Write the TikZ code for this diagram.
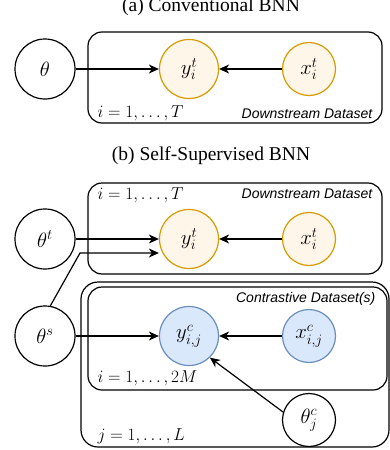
\documentclass[tikz,border=0pt]{standalone}
\usepackage{fontspec}
\setmainfont{Liberation Serif}
\setsansfont{Liberation Sans}
\usetikzlibrary{arrows.meta,calc}
\definecolor{orgS}{HTML}{D79B00}
\definecolor{orgF}{HTML}{FFF6EA}
\definecolor{bluS}{HTML}{6C8EBF}
\definecolor{bluF}{HTML}{DAE8FC}
\begin{document}
\begin{tikzpicture}[x=1pt,y=-1pt,line width=1.2pt,
  var/.style={circle,draw,minimum size=60pt,inner sep=0pt,font=\fontsize{21}{22}\selectfont},
  smallvar/.style={var,minimum size=53pt},
  obs/.style={draw=orgS,fill=orgF},
  con/.style={draw=bluS,fill=bluF},
  plate/.style={draw,rounded corners=14pt},
  arr/.style={-{Stealth[length=10pt,width=9pt,inset=3pt]}},
  lab/.style={font=\fontsize{16.5}{17}\selectfont,inner sep=0pt},
  dlab/.style={font=\sffamily\itshape\fontsize{14}{14}\selectfont,inner sep=0pt},
  ttl/.style={font=\fontsize{19.5}{20}\selectfont,inner sep=0pt}]
\useasboundingbox (0,0) rectangle (390,450);
% (a)
\node[ttl,anchor=base] (ta) at (211,11.5) {(a) Conventional BNN};
\draw[plate] (88,32) rectangle (382,123);
\node[var] (th) at (45,69) {$\theta$};
\node[var,obs,minimum size=59pt] (ya) at (189,69) {$y_i^t$};
\node[smallvar,obs] (xa) at (309,69) {$x_i^t$};
\node[lab,anchor=base west] (ia) at (97,117.5) {$i=1,\ldots,T$};
\node[dlab,anchor=base east] (da) at (373,118.5) {Downstream Dataset};
\draw[arr] (th) -- (ya);
\draw[arr] (xa) -- (ya);
% (b)
\node[ttl,anchor=base] (tb) at (211,160) {(b) Self-Supervised BNN};
\draw[plate] (88,183) rectangle (382,274);
\draw[plate,rounded corners=17pt] (81,282) rectangle (389,447);
\draw[plate] (88,287) rectangle (387,390);
\node[var] (tt) at (45,239) {$\theta^t$};
\node[var,obs,minimum size=59pt] (yb) at (189,239) {$y_i^t$};
\node[smallvar,obs] (xb) at (309,239) {$x_i^t$};
\node[lab,anchor=base west] (ib) at (97,199) {$i=1,\ldots,T$};
\node[dlab,anchor=base east] (db) at (373,198.5) {Downstream Dataset};
\node[var] (ts) at (45,336) {$\theta^s$};
\node[var,con,minimum size=59pt] (yc) at (189,336) {$y_{i,j}^c$};
\node[smallvar,con] (xc) at (309,336) {$x_{i,j}^c$};
\node[smallvar] (tc) at (309,420) {$\theta_j^c$};
\node[dlab,anchor=base east] (dc) at (376,302) {Contrastive Dataset(s)};
\node[lab,anchor=base west] (ic) at (97,382) {$i=1,\ldots,2M$};
\node[lab,anchor=base west] (jc) at (97,440) {$j=1,\ldots,L$};
\coordinate (bend) at (80,253);
\draw[arr] (tt) -- (yb);
\draw[arr] (ts.80) -- (bend) -- (yb.west |- bend);
\draw[arr] (xb) -- (yb);
\draw[arr] (ts) -- (yc);
\draw[arr] (xc) -- (yc);
\draw[arr] (tc.163) -- (yc.-46);
\end{tikzpicture}
\end{document}
